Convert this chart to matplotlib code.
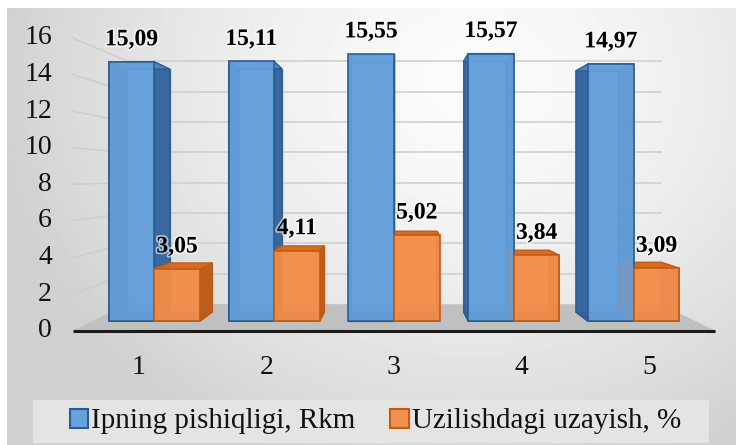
import numpy as np
import matplotlib
matplotlib.use("Agg")
import matplotlib.pyplot as plt
from matplotlib.patches import Polygon, Rectangle, Patch
import matplotlib.patheffects as pe

# ---------------- data ----------------
categories = ["1", "2", "3", "4", "5"]
strength = [15.09, 15.11, 15.55, 15.57, 14.97]      # Ipning pishiqligi, Rkm
elongation = [3.05, 4.11, 5.02, 3.84, 3.09]         # Uzilishdagi uzayish, %
series_names = ["Ipning pishiqligi, Rkm", "Uzilishdagi uzayish, %"]
yticks = [0, 2, 4, 6, 8, 10, 12, 14, 16]

plt.rcParams['font.family'] = ['Liberation Serif', 'DejaVu Serif']

W, H, DPI = 736, 445, 100
fig = plt.figure(figsize=(W / DPI, H / DPI), dpi=DPI)
fig.patch.set_facecolor('white')

# ---------------- background gradient ----------------
bg = fig.add_axes([7 / W, 0, 1 - 7 / W, 1 - 8 / H], zorder=0)
yy, xx = np.mgrid[8:H, 7:W].astype(float)
r = np.sqrt(((xx - 470) / 480) ** 2 + ((yy - 80) / 420) ** 2)
img = np.clip(0.985 - 0.17 * r ** 1.5, 0.82, 1.0)
bg.imshow(img, cmap='gray', vmin=0, vmax=1, aspect='auto', interpolation='bilinear')
bg.axis('off')

# ---------------- main axes (front plane in data units) ----------------
ax = fig.add_axes([0, 0, 1, 1], zorder=1)
ax.patch.set_alpha(0)
ax.axis('off')
PX0, PXS = 139.0, 127.5      # pixel of category 1, pixels per category
PY0, PYS = 330.7, 18.3       # pixel of value 0, pixels per unit
ax.set_xlim(1 - PX0 / PXS, 1 + (W - PX0) / PXS)
ax.set_ylim((PY0 - H) / PYS, PY0 / PYS)

XV, VV = 3.0, 8.51           # vanishing point
S_WALL = 0.83                # depth scale of back wall / floor back edge
SF, SB = 0.94, 0.88          # depth scale of bar front / back faces
XL, XR = 0.48, 5.52          # floor extent in front plane


def proj(x, v, s):
    return (XV + (x - XV) * s, VV + (v - VV) * s)


# floor
floor = [proj(XL, 0, 1), proj(XR, 0, 1), proj(XR, 0, S_WALL), proj(XL, 0, S_WALL)]
ax.add_patch(Polygon(floor, closed=True, facecolor='#c0c0c0', edgecolor='none', zorder=1))

# gridlines on back wall and left wall
for v in yticks[1:]:
    a, b = proj(XL, v, S_WALL), proj(XR, v, S_WALL)
    ax.plot([a[0], b[0]], [a[1], b[1]], color='#cdcdcd', lw=1.1, zorder=1.5)
    c = proj(XL, v, 1.0)
    ax.plot([c[0], a[0]], [c[1], a[1]], color='#cdcdcd', lw=1.1, zorder=1.5)

# front edge of floor
ax.plot([XL, XR], [0, 0], color='#1c1c1c', lw=2.2, zorder=6, solid_capstyle='butt')

# bars
styles = [
    dict(front='#66a2de', side='#33639a', top='#4d88c4', back='#5b93cc', edge='#2b5c90'),
    dict(front='#f39150', side='#b95a19', top='#d26a22', back='#e47f3c', edge='#c4590f'),
]
BW = 0.38
xs = np.arange(1, len(categories) + 1)
fronts = []
for ci, c in enumerate(xs):
    for si, vals in enumerate([strength, elongation]):
        h = vals[ci]
        x0 = c - BW if si == 0 else c
        x1 = x0 + BW
        st = styles[si]
        faces = [
            ([proj(x0, 0, SB), proj(x1, 0, SB), proj(x1, h, SB), proj(x0, h, SB)], st['back']),
            ([proj(x0, 0, SF), proj(x1, 0, SF), proj(x1, 0, SB), proj(x0, 0, SB)], st['side']),
            ([proj(x0, 0, SF), proj(x0, 0, SB), proj(x0, h, SB), proj(x0, h, SF)], st['side']),
            ([proj(x1, 0, SF), proj(x1, 0, SB), proj(x1, h, SB), proj(x1, h, SF)], st['side']),
            ([proj(x0, h, SF), proj(x1, h, SF), proj(x1, h, SB), proj(x0, h, SB)], st['top']),
        ]
        for pts, col in faces:
            ax.add_patch(Polygon(pts, closed=True, facecolor=col, edgecolor=st['edge'],
                                 lw=0.9, alpha=0.9, zorder=3))
        fronts.append(([proj(x0, 0, SF), proj(x1, 0, SF), proj(x1, h, SF), proj(x0, h, SF)], st, x0, x1, h))

for pts, st, x0, x1, h in fronts:
    ax.add_patch(Polygon(pts, closed=True, facecolor=st['front'], edgecolor=st['edge'],
                         lw=1.3, alpha=0.88, zorder=4))
    lx, ly = proj((x0 + x1) / 2, h, SF)
    ax.annotate(f"{h:.2f}".replace('.', ','), xy=(lx, ly), xytext=(0, 22 * 0.72),
                textcoords='offset points', ha='center', va='center',
                fontsize=17, fontweight='bold', color='black', zorder=8,
                path_effects=[pe.withStroke(linewidth=2.5, foreground='white', alpha=0.6)])

# y tick labels
xlab = 1 + (52 - PX0) / PXS
for v in yticks:
    ax.text(xlab, v, str(v), ha='right', va='center', fontsize=20, color='#111111', zorder=7)

# category labels
for c, lab in zip(xs, categories):
    ax.annotate(lab, xy=(c, 0), xytext=(0, -37 * 0.72), textcoords='offset points',
                ha='center', va='center', fontsize=20, color='#111111', zorder=7)

# legend
fig.patches.append(Rectangle((33 / W, (H - 443) / H), 676 / W, 43 / H,
                             transform=fig.transFigure, facecolor='#e4e4e4',
                             edgecolor='none', zorder=2))
handles = [Patch(facecolor=styles[0]['front'], edgecolor=styles[0]['edge'], lw=1.5),
           Patch(facecolor=styles[1]['front'], edgecolor=styles[1]['edge'], lw=1.5)]
leg = fig.legend(handles, series_names, loc='center', bbox_to_anchor=(375.5 / W, 1 - 421.5 / H),
                 ncol=2, frameon=False, fontsize=21, handlelength=0.62, handleheight=0.62,
                 handletextpad=0.12, columnspacing=1.2, borderpad=0.2)
leg.set_zorder(10)
for t in leg.get_texts():
    t.set_color('#111111')

fig.savefig('out.png', dpi=DPI)
